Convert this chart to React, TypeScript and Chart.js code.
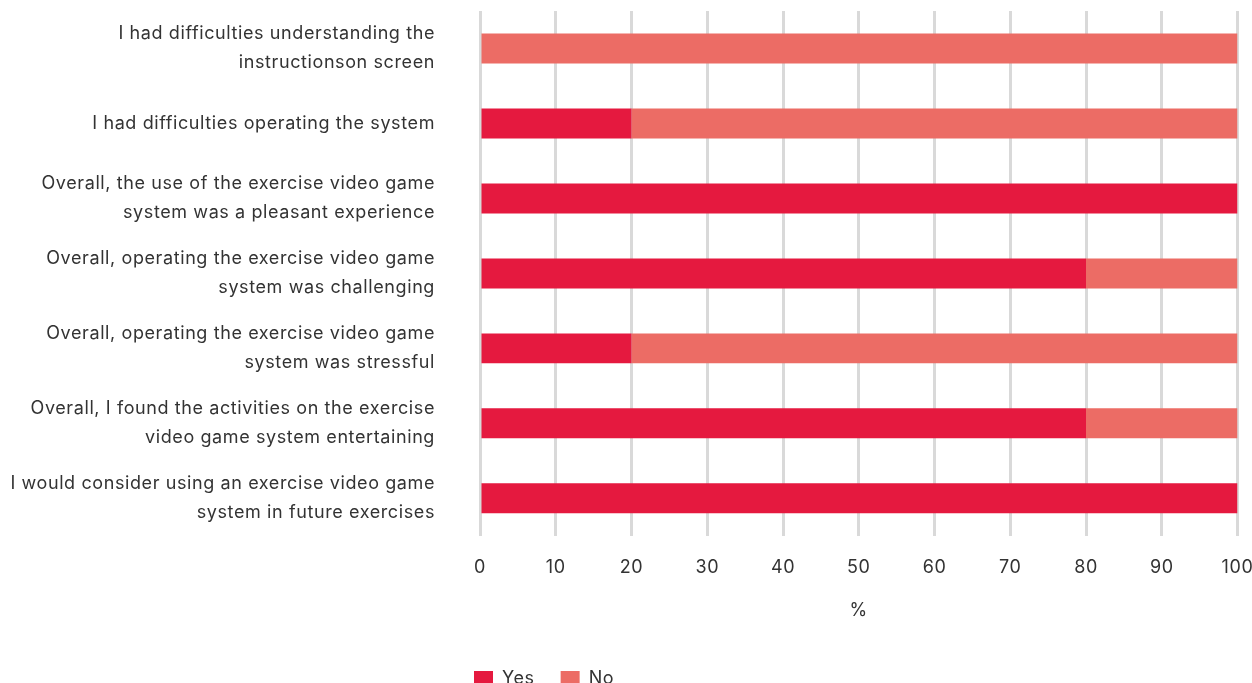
import React, { useEffect, useRef } from "react";
import { Chart, registerables } from "chart.js";

Chart.register(...registerables);

const categories: string[][] = [
  ["I had difficulties understanding the", "instructionson screen"],
  ["I had difficulties operating the system"],
  ["Overall, the use of the exercise video game", "system was a pleasant experience"],
  ["Overall, operating the exercise video game", "system was challenging"],
  ["Overall, operating the exercise video game", "system was stressful"],
  ["Overall, I found the activities on the exercise", "video game system entertaining"],
  ["I would consider using an exercise video game", "system in future exercises"],
];
const yesValues = [0, 20, 100, 80, 20, 80, 100];
const noValues = [100, 80, 0, 20, 80, 20, 0];
const xTitle = "%";

const FONT = "Inter";
const TEXT = "#333333";
const SPACING = "0.6px";

const spacingPlugin = {
  id: "spacing",
  beforeUpdate(chart: any) {
    chart.ctx.letterSpacing = SPACING;
  },
  beforeLayout(chart: any) {
    chart.ctx.letterSpacing = SPACING;
  },
  afterLayout(chart: any) {
    if (chart.legend) chart.legend.left = 448;
  },
  beforeDraw(chart: any) {
    chart.ctx.letterSpacing = SPACING;
  },
};

export default function App() {
  const ref = useRef<HTMLCanvasElement | null>(null);
  useEffect(() => {
    document.body.style.margin = "0";
    const ctx = ref.current!;
    const chart = new Chart(ctx, {
      type: "bar",
      plugins: [spacingPlugin],
      data: {
        labels: categories,
        datasets: [
          { label: "Yes", data: yesValues, backgroundColor: "#E5193F", barPercentage: 0.4, categoryPercentage: 1 },
          { label: "No", data: noValues, backgroundColor: "#EC6C65", barPercentage: 0.4, categoryPercentage: 1 },
        ],
      },
      options: {
        indexAxis: "y",
        animation: false,
        responsive: false,
        layout: { padding: { top: 11, right: 0, bottom: 0, left: 0 } },
        plugins: {
          tooltip: { enabled: false },
          legend: {
            position: "bottom",
            align: "start",
            labels: {
              font: { family: FONT, size: 18 },
              color: TEXT,
              boxWidth: 19,
              boxHeight: 16,
              padding: 26,
            },
          },
        },
        scales: {
          x: {
            stacked: true,
            min: 0,
            max: 100,
            ticks: { stepSize: 10, font: { family: FONT, size: 18 }, color: TEXT, padding: 21 },
            grid: { color: "#d9d9d9", lineWidth: 3, drawTicks: false },
            border: { display: false },
            title: { display: true, text: xTitle, font: { family: FONT, size: 18 }, color: TEXT, padding: { top: 0, bottom: 23 } },
            afterFit: (s: any) => {
              s.paddingRight = 14.5;
              s.paddingLeft = 0;
            },
          },
          y: {
            stacked: true,
            ticks: { font: { family: FONT, size: 18, lineHeight: 1.6 }, color: TEXT, padding: 45 },
            grid: { display: false, drawTicks: false },
            border: { display: false },
            afterFit: (s: any) => {
              s.width = 480;
              s.paddingTop = 0;
              s.paddingBottom = 0;
            },
          },
        },
      },
    });
    return () => chart.destroy();
  }, []);
  return <canvas ref={ref} width={1252} height={698} style={{ display: "block" }} />;
}
